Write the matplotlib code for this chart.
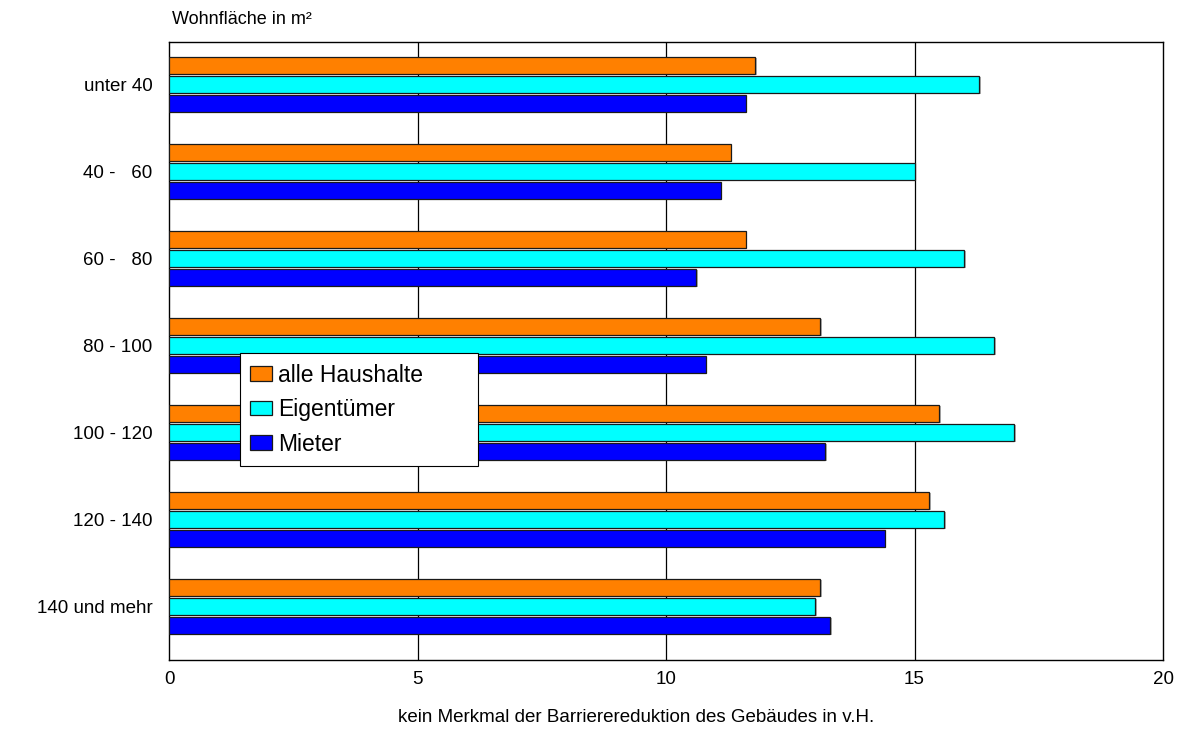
import numpy as np
import matplotlib
matplotlib.use('Agg')
import matplotlib.pyplot as plt
import matplotlib.patheffects as pe

plt.rcParams['font.family'] = ['Liberation Sans', 'DejaVu Sans']

# Wohnflaechenklassen (von oben nach unten)
klassen = ['unter 40', '40 -   60', '60 -   80', '80 - 100', '100 - 120', '120 - 140', '140 und mehr']
alle = [11.8, 11.3, 11.6, 13.1, 15.5, 15.3, 13.1]
eigentuemer = [16.3, 15.0, 16.0, 16.6, 17.0, 15.6, 13.0]
mieter = [11.6, 11.1, 10.6, 10.8, 13.2, 14.4, 13.3]

serien = ['alle Haushalte', 'Eigentümer', 'Mieter']
farben = ['#ff8000', '#00ffff', '#0000ff']
xticks = [0, 5, 10, 15, 20]

fig = plt.figure(figsize=(11.81, 7.31), dpi=100)
ax = fig.add_axes([0.1431, 0.0971, 0.8417, 0.8454])

y = np.arange(len(klassen))
h = 0.195
schatten = [pe.SimplePatchShadow(offset=(1.2, -1.2), shadow_rgbFace='#808080', alpha=0.6), pe.Normal()]

for i, (werte, name, farbe) in enumerate(zip([alle, eigentuemer, mieter], serien, farben)):
    ax.barh(y + (i - 1) * 0.218, werte, height=h, color=farbe, edgecolor='#1a1a1a',
            linewidth=0.9, label=name, zorder=3, path_effects=schatten)

ax.set_xlim(0, 20)
ax.set_ylim(6.62, -0.483)
ax.set_xticks(xticks)
ax.set_xticklabels([str(t) for t in xticks], fontsize=13.5)
ax.set_yticks(y)
ax.set_yticklabels(klassen, fontsize=13.5)
ax.tick_params(axis='x', length=0, pad=8)
ax.tick_params(axis='y', length=0, pad=12)

for gx in xticks[1:-1]:
    ax.axvline(gx, color='#000000', linewidth=0.9, zorder=1)

for s in ax.spines.values():
    s.set_color('#000000')
    s.set_linewidth(1.0)

fig.text(172 / 1181, 1 - 20 / 731, 'Wohnfläche in m²', fontsize=13, ha='left', va='center')
fig.text(636 / 1181, 1 - 718 / 731, 'kein Merkmal der Barrierereduktion des Gebäudes in v.H.',
         fontsize=13.5, ha='center', va='center')

leg = ax.legend(loc='lower left', bbox_to_anchor=(0.0714, 0.314, 0.2395, 0.178),
                mode='expand', borderaxespad=0,
                fontsize=16.5, fancybox=False, framealpha=1, edgecolor='#000000',
                handlelength=0.95, handleheight=0.6, handletextpad=0.25,
                labelspacing=0.5, borderpad=0.45)
leg.get_frame().set_linewidth(0.8)
for p in leg.get_patches():
    p.set_path_effects([])

fig.savefig('out.png', dpi=100)
